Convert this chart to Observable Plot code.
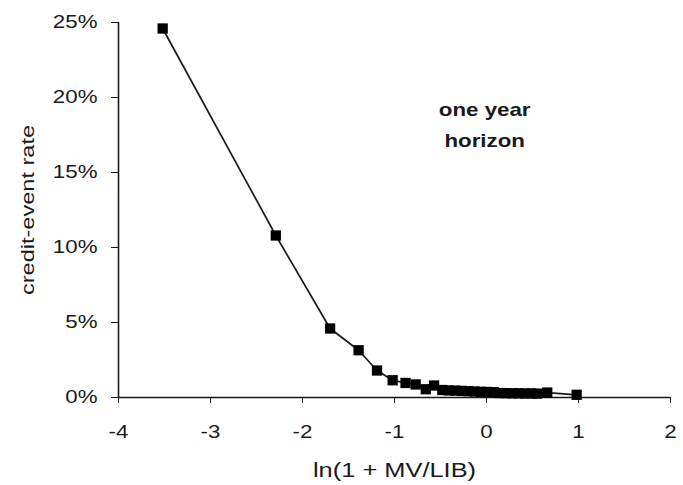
<!DOCTYPE html>
<html>
<head>
<meta charset="utf-8">
<script src="https://cdn.jsdelivr.net/npm/d3@7"></script>
<script src="https://cdn.jsdelivr.net/npm/@observablehq/plot@0.6"></script>
<style>
  body { margin: 0; background: #fff; }
</style>
</head>
<body>
<div id="chart"></div>
<script>
// ln(1 + MV/LIB) for each bucket
const logCoverage = [
  -3.52, -2.29, -1.70, -1.39, -1.19, -1.02, -0.88, -0.77, -0.66, -0.57,
  -0.48, -0.41, -0.34, -0.27, -0.20, -0.13, -0.06, 0.01, 0.08, 0.14,
  0.21, 0.28, 0.35, 0.42, 0.49, 0.55, 0.66, 0.98
];
// one-year credit-event rate, percent
const eventRate = [
  24.6, 10.8, 4.6, 3.15, 1.8, 1.15, 0.97, 0.87, 0.55, 0.80,
  0.50, 0.47, 0.46, 0.44, 0.42, 0.40, 0.38, 0.37, 0.35, 0.30,
  0.29, 0.28, 0.28, 0.27, 0.27, 0.26, 0.33, 0.18
];
const xTicks = [-4, -3, -2, -1, 0, 1, 2];
const yTicks = [0, 5, 10, 15, 20, 25];

// in-plot note
const noteText = ["one year\nhorizon"];
const noteX = [-0.02];
const noteY = [18.4];

const points = logCoverage.map((x, i) => ({x, y: eventRate[i]}));

const chart = Plot.plot({
  width: 683,
  height: 485,
  marginLeft: 118,
  marginRight: 13,
  marginTop: 22,
  marginBottom: 88,
  style: {
    fontFamily: "'Liberation Sans', Arial, sans-serif",
    fontSize: "18px",
    color: "#1a1a1a",
    background: "#fff"
  },
  x: {
    domain: [xTicks[0], xTicks[xTicks.length - 1]],
    ticks: xTicks,
    tickSize: 6,
    tickPadding: 22,
    tickFormat: d => String(d).replace("−", "-"),
    label: "ln(1 + MV/LIB)",
    labelAnchor: "center",
    labelArrow: false,
    labelOffset: 79
  },
  y: {
    domain: [yTicks[0], yTicks[yTicks.length - 1]],
    ticks: yTicks,
    tickSize: 7,
    tickPadding: 14,
    tickFormat: d => d + "%",
    label: "credit-event rate",
    labelAnchor: "center",
    labelArrow: false,
    labelOffset: 98
  },
  marks: [
    Plot.ruleY([yTicks[0]], {stroke: "#1a1a1a", strokeWidth: 1.6}),
    Plot.ruleX([xTicks[0]], {stroke: "#1a1a1a", strokeWidth: 1.6}),
    Plot.line(points, {x: "x", y: "y", stroke: "#1a1a1a", strokeWidth: 1.7}),
    Plot.dot(points, {x: "x", y: "y", symbol: "square", r: 5.8, fill: "#000", stroke: "none"}),
    Plot.text(noteText, {
      x: noteX, y: noteY, text: d => d,
      fontWeight: "bold", fontSize: 18, lineHeight: 1.72, fill: "#1a1a1a"
    })
  ]
});

document.getElementById("chart").appendChild(chart);

// axis titles are set a little larger than the tick labels
d3.select(chart).selectAll('[aria-label="x-axis label"] text').style("font-size", "20.5px");
d3.select(chart).selectAll('[aria-label="y-axis label"] text').style("font-size", "19px");

// widen the lettering horizontally about each label's own anchor point
d3.select(chart).selectAll("text").each(function () {
  const box = this.getBBox();
  const anchor = getComputedStyle(this).textAnchor;
  const ax = anchor === "end" ? box.x + box.width
    : anchor === "middle" ? box.x + box.width / 2
    : box.x;
  const t = this.getAttribute("transform") || "";
  this.setAttribute("transform",
    `${t} translate(${ax},0) scale(1.24,1) translate(${-ax},0)`);
});
</script>
</body>
</html>
